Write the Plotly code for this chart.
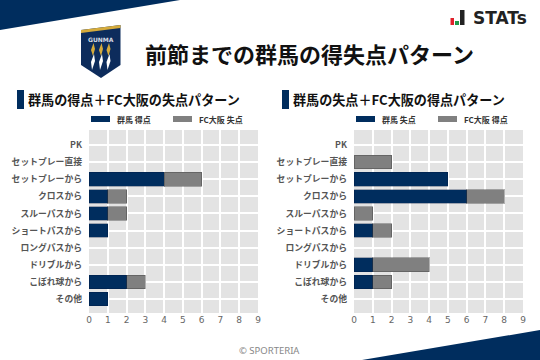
import plotly.graph_objects as go

W, H = 540, 360
categories = ["PK", "セットプレー直接", "セットプレーから", "クロスから", "スルーパスから",
              "ショートパスから", "ロングパスから", "ドリブルから", "こぼれ球から", "その他"]
gunma_scored = [0, 0, 4, 1, 1, 1, 0, 0, 2, 1]
osaka_conceded = [0, 0, 2, 1, 1, 0, 0, 0, 1, 0]
gunma_conceded = [0, 0, 5, 6, 0, 1, 0, 1, 1, 0]
osaka_scored = [0, 2, 0, 2, 1, 1, 0, 3, 1, 0]
x_ticks = list(range(10))

NAVY = "#002d5e"
GREY = "#808080"
JP = "Noto Sans CJK JP"


def X(p):
    return p / W


def Y(p):
    return 1 - p / H


def poly(points, fill, line=None):
    path = "M" + " L".join(f"{X(a):.5f},{Y(b):.5f}" for a, b in points) + " Z"
    return dict(type="path", xref="paper", yref="paper", path=path, fillcolor=fill,
                line=dict(width=0) if line is None else dict(color=line, width=1), layer="above")


def rect(x0, y0, x1, y1, fill):
    return dict(type="rect", xref="paper", yref="paper", x0=X(x0), x1=X(x1), y0=Y(y0), y1=Y(y1),
                fillcolor=fill, line=dict(width=0), layer="above")


def text(s, x, y, size, color="#111111", anchor="left", family=JP, bold=False):
    return dict(text=f"<b>{s}</b>" if bold else s, x=X(x), y=Y(y), xref="paper", yref="paper",
                xanchor=anchor, yanchor="middle", showarrow=False,
                font=dict(size=size, color=color, family=family))


def edge(values):
    return [1 if v > 0 else 0 for v in values]


fig = go.Figure()
panels = [("x", "y", gunma_scored, osaka_conceded, "群馬 得点", "FC大阪 失点"),
          ("x2", "y2", gunma_conceded, osaka_scored, "群馬 失点", "FC大阪 得点")]
for xa, ya, home, away, n1, n2 in panels:
    fig.add_trace(go.Bar(y=categories, x=home, orientation="h", name=n1, xaxis=xa, yaxis=ya, width=0.8,
                         marker=dict(color=NAVY, line=dict(color="rgba(0,20,60,0.3)", width=edge(home)))))
    fig.add_trace(go.Bar(y=categories, x=away, orientation="h", name=n2, xaxis=xa, yaxis=ya, width=0.8,
                         marker=dict(color=GREY, line=dict(color="rgba(60,60,60,0.4)", width=edge(away)))))

axis_x = dict(range=[0, 9], tickvals=x_ticks, showgrid=True, gridcolor="white", gridwidth=1.5, zeroline=False,
              automargin=False, ticks="", tickfont=dict(size=9, color="#666666", family="DejaVu Sans"),
              showline=False, ticklen=0)
axis_y = dict(categoryorder="array", categoryarray=categories, range=[9.82, -0.88], showgrid=True,
              gridcolor="white", gridwidth=1.5, zeroline=False, ticks="", ticklabelstandoff=6, automargin=False,
              tickfont=dict(size=8.8, color="#555555", family=JP, weight="bold"), showline=False)
fig.update_layout(
    width=W, height=H, barmode="stack", showlegend=False, bargap=0.2,
    margin=dict(l=0, r=0, t=0, b=0, autoexpand=False), paper_bgcolor="white", plot_bgcolor="#e3e3e3",
    font=dict(family=JP),
    xaxis=dict(axis_x, domain=[X(89), X(258)], anchor="y"),
    yaxis=dict(axis_y, domain=[Y(313), Y(130)], anchor="x"),
    xaxis2=dict(axis_x, domain=[X(354), X(523)], anchor="y2"),
    yaxis2=dict(axis_y, domain=[Y(313), Y(130)], anchor="x2"),
)

shapes = [
    poly([(0, 0), (180, 0), (0, 30)], NAVY),
    poly([(362, 360), (540, 330), (540, 360)], NAVY),
    rect(17, 90, 24, 109, NAVY),
    rect(282, 90, 289, 109, NAVY),
    rect(91, 116, 110, 122, NAVY),
    rect(173, 116, 192, 122, GREY),
    rect(356, 116, 375, 122, NAVY),
    rect(438, 116, 457, 122, GREY),
    # STATs mark
    rect(450.5, 18, 454, 25, "#e0202a"),
    rect(455, 21, 459, 25, "#1f9a4a"),
    rect(460, 10, 464.5, 25, "#222222"),
    # club crest
    poly([(81, 30), (120.5, 25), (120.5, 65), (101, 78), (81, 65)], "#0d2c5c"),
    poly([(81, 30), (120.5, 25), (120.5, 28), (81, 33)], "#d5ab3c"),
]
for cx in (93, 101, 108.5):
    shapes.append(poly([(cx + 0.5, 43), (cx + 2, 49), (cx, 56), (cx - 2, 50)], "#d5ab3c"))
    shapes.append(poly([(cx + 1, 54), (cx + 2, 61), (cx - 1, 70), (cx - 2, 62)], "white"))

annotations = [
    text("前節までの群馬の得失点パターン", 309, 53, 22, anchor="center", bold=True),
    text("群馬の得点＋FC大阪の失点パターン", 26, 99, 13.1, bold=True),
    text("群馬の失点＋FC大阪の得点パターン", 291, 99, 13.1, bold=True),
    text("群馬 得点", 115, 119.5, 8, "#333333", bold=True),
    text("FC大阪 失点", 197, 119.5, 8, "#333333", bold=True),
    text("群馬 失点", 380, 119.5, 8, "#333333", bold=True),
    text("FC大阪 得点", 462, 119.5, 8, "#333333", bold=True),
    text("GUNMA", 100.5, 39, 6, "#d8dde6", anchor="center", family="DejaVu Sans", bold=True),
    text("STATs", 471, 18, 17, "#222222", family="DejaVu Sans", bold=True),
    text("© SPORTERIA", 269, 350, 9.5, "#888888", anchor="center", family="Noto Sans"),
]
fig.update_layout(shapes=shapes, annotations=annotations)
fig.write_html("out.html", config={"displayModeBar": False},
               post_script="document.body.style.margin='0';document.documentElement.style.overflow='hidden';")
